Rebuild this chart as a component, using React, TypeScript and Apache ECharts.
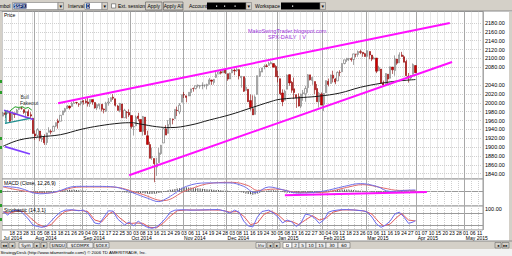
import React, { useEffect, useRef } from 'react';
import * as echarts from 'echarts';

// ---------- DATA ----------
const START = '2014-07-14';
const END = '2015-05-12';
const HOLIDAYS = ['2014-09-01', '2014-11-27', '2014-12-25', '2015-01-01', '2015-01-19', '2015-02-16', '2015-04-03'];
const MONTHS = ['Jan', 'Feb', 'Mar', 'Apr', 'May', 'Jun', 'Jul', 'Aug', 'Sep', 'Oct', 'Nov', 'Dec'];

function buildTradingDays(): string[] {
  const out: string[] = [];
  const d = new Date(START + 'T00:00:00Z');
  const end = new Date(END + 'T00:00:00Z');
  while (d <= end) {
    const wd = d.getUTCDay();
    const s = d.toISOString().slice(0, 10);
    if (wd !== 0 && wd !== 6 && HOLIDAYS.indexOf(s) < 0) out.push(s);
    d.setUTCDate(d.getUTCDate() + 1);
  }
  return out;
}
const dates = buildTradingDays();

// [open, close, low, high] per trading day, Jul 14 2014 .. Mar 31 2015
const ohlc: number[][] = [
  [1969.9,1977.1,1969.9,1979.8],[1977.4,1973.3,1965.6,1982.5],[1976.4,1981.6,1975.4,1983.9],[1979.8,1958.1,1955.6,1981.8],
  [1961.5,1978.2,1961.5,1979.9],[1976.9,1973.6,1965.8,1976.9],[1975.7,1983.5,1975.7,1986.2],[1985.3,1987.0,1984.0,1989.2],
  [1988.1,1988.0,1984.6,1991.4],[1984.6,1978.3,1974.9,1984.6],[1978.3,1978.9,1966.1,1981.5],[1980.0,1970.0,1970.0,1984.9],
  [1973.2,1970.1,1965.8,1978.9],[1965.1,1930.7,1930.7,1965.1],
  [1929.8,1925.2,1916.4,1937.4],[1926.6,1939.0,1921.8,1942.9],[1936.3,1920.2,1913.3,1936.3],[1917.3,1920.2,1911.5,1927.9],
  [1923.0,1909.6,1904.8,1928.9],[1910.4,1931.6,1904.8,1932.4],[1933.4,1936.9,1933.4,1944.9],[1935.7,1933.8,1928.8,1939.5],
  [1935.6,1946.7,1935.6,1948.4],[1947.4,1955.2,1945.0,1955.2],[1958.9,1955.1,1941.7,1964.0],[1958.4,1971.7,1958.4,1971.9],
  [1972.7,1981.6,1972.7,1982.0],[1980.5,1986.5,1977.7,1988.6],[1986.8,1992.4,1986.8,1994.8],[1992.6,1988.4,1984.8,1993.5],
  [1991.7,1997.9,1991.7,2001.9],[1998.6,2000.0,1998.6,2005.0],[2000.5,2000.1,1996.5,2002.1],[1997.4,1996.7,1990.9,1998.7],
  [1998.5,2003.4,1994.1,2003.4],
  [2004.1,2002.3,1995.8,2006.1],[2003.6,2000.7,1998.1,2009.3],[2001.7,1997.7,1991.5,2011.2],[1998.0,2007.7,1990.6,2007.7],
  [2007.2,2001.5,1995.6,2007.2],[2000.7,1988.4,1986.7,2001.0],[1988.4,1995.7,1983.3,1996.7],[1992.9,1997.5,1985.2,1997.7],
  [1996.7,1985.5,1980.3,1996.7],[1986.0,1984.1,1976.1,1987.2],[1981.9,1999.0,1979.1,2002.3],[1999.3,2001.6,1993.4,2010.7],
  [2003.1,2011.4,2003.1,2012.3],[2012.7,2010.4,2006.3,2019.3],[2009.1,1994.3,1991.6,2009.1],[1992.8,1982.8,1982.7,1995.4],
  [1983.3,1998.3,1978.6,1999.8],[1997.3,1966.0,1965.9,1997.3],[1966.2,1982.9,1966.2,1986.4],[1979.0,1977.8,1964.0,1981.3],
  [1978.2,1972.3,1968.0,1985.2],
  [1971.4,1946.2,1941.7,1971.4],[1945.8,1946.2,1926.0,1952.0],[1948.1,1967.9,1948.1,1971.2],[1970.0,1964.8,1958.3,1977.4],
  [1962.4,1935.1,1935.1,1962.4],[1935.6,1968.9,1925.8,1970.4],[1967.7,1928.2,1927.6,1967.7],[1925.6,1906.1,1906.1,1936.9],
  [1905.7,1874.7,1874.7,1912.1],[1877.1,1877.7,1871.0,1898.7],[1874.2,1862.5,1820.7,1874.2],[1855.0,1862.8,1835.0,1876.0],
  [1864.9,1886.8,1864.9,1898.2],[1885.6,1904.0,1882.3,1905.0],[1909.4,1941.3,1909.4,1942.5],[1941.3,1927.1,1927.1,1949.3],
  [1931.0,1950.8,1931.0,1961.0],[1951.6,1964.6,1944.1,1965.3],[1963.0,1961.6,1951.4,1964.6],[1964.1,1985.1,1964.1,1985.1],
  [1983.3,1982.3,1970.1,1991.4],[1979.5,1994.7,1974.2,1999.4],[2001.2,2018.1,2001.2,2018.2],
  [2018.2,2017.8,2010.8,2024.5],[2015.8,2012.1,2001.0,2015.8],[2015.3,2023.6,2015.3,2023.8],[2023.3,2031.2,2015.0,2031.6],
  [2032.4,2031.9,2025.1,2034.3],[2032.0,2038.3,2030.2,2038.7],[2038.2,2039.7,2034.3,2041.3],[2037.8,2038.3,2031.8,2040.3],
  [2039.2,2039.3,2030.4,2046.2],[2039.7,2039.8,2035.0,2041.1],[2038.3,2041.3,2030.2,2043.1],[2041.5,2051.8,2041.5,2056.1],
  [2051.2,2048.7,2040.5,2052.1],[2045.9,2052.8,2040.7,2053.8],[2057.5,2063.5,2056.5,2071.5],[2065.1,2069.4,2065.1,2070.2],
  [2070.1,2067.0,2064.0,2074.2],[2067.5,2072.8,2067.5,2073.4],[2074.8,2067.6,2064.8,2075.8],
  [2065.8,2053.4,2049.6,2065.8],[2053.8,2066.6,2053.8,2068.2],[2067.5,2074.3,2067.5,2076.3],[2073.6,2071.9,2062.3,2077.3],
  [2072.8,2075.4,2069.8,2079.5],[2074.8,2060.3,2052.7,2075.8],[2056.6,2059.8,2034.2,2060.6],[2058.9,2026.1,2024.3,2058.9],
  [2027.9,2035.3,2027.9,2055.5],[2030.4,2002.3,2002.3,2030.4],[2005.0,1989.6,1982.3,2018.7],[1986.7,1972.7,1972.6,2016.9],
  [1973.8,2012.9,1973.8,2016.8],[2019.0,2061.2,2019.0,2061.2],[2061.0,2070.7,2058.2,2077.9],[2069.3,2078.5,2069.3,2078.8],
  [2081.5,2082.2,2075.5,2086.7],[2083.3,2081.9,2081.0,2087.6],[2084.3,2088.8,2084.3,2092.7],[2087.6,2090.6,2087.6,2093.6],
  [2088.5,2080.4,2079.8,2088.5],[2082.1,2058.9,2058.9,2085.6],
  [2058.9,2058.2,2046.0,2072.4],[2054.4,2020.6,2017.3,2054.4],[2022.2,2002.6,1992.4,2030.3],[2005.6,2025.9,2005.6,2029.6],
  [2030.6,2062.1,2030.6,2064.1],[2063.5,2044.8,2038.3,2064.4],[2046.1,2028.3,2022.6,2049.3],[2031.6,2023.0,2008.3,2056.9],
  [2018.4,2011.3,1988.4,2018.4],[2013.8,1992.7,1991.5,2021.4],[1992.3,2019.4,1988.1,2020.5],[2020.8,2022.6,2004.5,2028.9],
  [2020.2,2032.1,2002.4,2038.3],[2034.3,2063.2,2022.7,2064.6],[2063.0,2051.8,2050.5,2063.0],[2050.4,2057.1,2040.6,2057.6],
  [2047.9,2029.6,2019.9,2047.9],[2032.3,2002.2,2002.2,2042.5],[2002.5,2021.3,1989.2,2024.6],[2019.4,1995.0,1994.5,2023.3],
  [1996.7,2020.9,1981.0,2021.7],[2022.7,2050.0,2022.7,2050.3],[2048.4,2041.5,2037.0,2054.7],[2043.5,2062.5,2043.5,2063.6],
  [2062.3,2055.5,2046.0,2072.4],[2053.5,2046.7,2041.9,2056.2],[2049.4,2068.6,2049.4,2070.9],[2068.6,2068.5,2059.8,2073.5],
  [2070.0,2088.5,2070.0,2089.0],[2088.8,2097.0,2086.7,2097.0],[2096.5,2100.3,2092.2,2101.3],[2099.2,2099.7,2094.5,2100.2],
  [2099.3,2097.5,2092.9,2102.1],[2097.7,2110.3,2085.4,2110.6],[2109.8,2109.7,2102.7,2110.1],[2109.1,2115.5,2103.8,2117.9],
  [2115.3,2113.9,2109.8,2119.6],[2113.9,2110.7,2103.8,2113.9],[2110.9,2104.5,2103.8,2112.7],
  [2105.2,2117.4,2104.4,2117.5],[2115.8,2107.8,2098.3,2115.8],[2107.7,2098.5,2094.0,2107.7],[2098.5,2101.0,2098.5,2104.3],
  [2100.9,2071.3,2066.9,2100.9],[2072.2,2079.4,2072.2,2083.5],[2076.1,2044.2,2044.2,2076.1],[2044.7,2040.2,2039.7,2050.1],
  [2041.1,2066.0,2041.1,2066.4],[2064.6,2053.4,2041.2,2064.6],[2055.4,2081.2,2055.4,2081.4],[2080.6,2074.3,2065.1,2080.6],
  [2072.8,2099.5,2061.0,2106.9],[2098.7,2089.3,2085.6,2098.7],[2090.3,2108.1,2090.3,2113.9],[2108.0,2104.4,2104.4,2114.9],
  [2103.9,2091.5,2091.5,2107.6],[2093.1,2061.1,2061.1,2097.4],[2059.9,2056.2,2045.5,2067.2],[2055.8,2061.0,2052.9,2062.8],
  [2064.1,2086.2,2064.1,2089.0],[2084.1,2067.9,2067.0,2084.1],
];

// moving average: [day index, value]
const maLine: number[][] = [
  [0,1902],[7,1916],[16,1923],[25,1928],[34,1940],[42,1948],[51,1954],[56,1955],[60,1952],[67,1946],[73,1944],
  [82,1950],[90,1961],[99,1973],[108,1988],[117,2003],[121,2008],[131,2012],[138,2015],[147,2022],[156,2035],
  [165,2044],[172,2049],[180,2052.4],
];
const lastClose = 2067.89;
const lastMa = 2052.43;

// drawn annotations (day index, price)
const upperChannel = [[24, 1999], [195, 2180.2]];
const lowerChannel = [[55, 1836.4], [196, 2092]];
const triTop = [[0.4, 1983.4], [13.2, 1962.5]];
const triBottom = [[0.8, 1953.5], [11.7, 1964.7]];
const triSide = [[1.25, 1981.8], [1.25, 1953.5]];
const flagLine = [[3.0,1981.8],[5.2,1990.9],[6.6,1989.5],[8.6,1990.9],[9.6,1987.3],[11.0,1989.5],[12.5,1983.4]];
const lowerLeftLine = [[0.8, 1901.2], [11.7, 1884.4]];

// MACD (12,26,9)
const macdLine: number[][] = [
  [0,12.3],[7,8.3],[16,-5.6],[23,-0.7],[32,12.3],[40,12.3],[47,11.5],[52,6.6],[57,-3.9],[63,-16.2],[68,-24.5],
  [71,-17.9],[74,-8.1],[80,12.3],[89,20.6],[99,20.6],[105,12.3],[110,-2.5],[116,10.8],[122,4.2],[129,-3.9],
  [139,0],[149,12.3],[156,18.9],[163,12.3],[169,0],[175,2.5],[180,3.58],
];
const signalLine: number[][] = [
  [0,10.8],[19,-3.9],[34,10.8],[47,10.8],[60,-5.6],[70,-22],[80,2.5],[92,20.6],[100,22],[107,14],[111,2.5],
  [119,5.9],[129,-2.5],[139,-2.5],[150,9.8],[157,16.4],[166,8.3],[173,2.5],[180,2.5],
];
const macdHist: number[] = [
  1,1,1.5,1,1,0.5,1,1.5,1.5,
  0.5,0,-0.5,-1,-3,-4,-4,-4,-4.5,-4,-3,-2.5,
  -2,-1,0,1,1.5,2.5,3,3.5,4,4,4,3.5,3,2.5,2,
  1.5,1,0.5,0,-0.5,-1,-1,-1,-1,-0.5,0,0.5,0.5,
  0,-0.5,-1,-2,-2,-2.5,-3,-4,-4.5,-4,-4,-4.5,-4,-5,-5.5,-6,-6,-5.5,
  -5,-4,-3,-1,1,3,4,5,6,7,8,9,10,10,9.5,9,8.5,8,7.5,7,6.5,6,5.5,5,
  4.5,4,3.5,3.5,3,2.5,2,1.5,1,0.5,0,-0.5,-1,-2,-3,
  -5,-6,-7,-8,-7,-5,-3,-1,0.5,1.5,
  2.5,3,3,2.5,1.5,0.5,-1,-2.5,-3,-3,
  -3.5,-4,-4.5,-4.5,-4,-3,-2,-1,-1,-1.5,-2,-2.5,-2,-1,0,
  1,2,2.5,3,3.5,4,4.5,5,5,4.5,4,4,3.5,3,2.5,2,1.5,1,0.5,0,
  -1,-2,-3,-3.5,-4,-4.5,-4,-3.5,-3,-2,-1,0,
  0.5,1,1,0.5,0,0,0.5,1,
];
const macdTrend = [[123, -9.4], [185, -1.0]];
const macdValue = 3.5819;

// Stochastic (14,3,1)
const stochK: number[][] = [
  [0,88],[2,70],[4,92],[7,95],[9,75],[11,50],[13,20],[15,12],[17,8],[19,15],[21,40],[23,65],[25,85],[27,95],
  [30,97],[33,92],[35,95],[37,80],[40,30],[42,25],[44,60],[46,92],[48,90],[50,50],[52,30],[53,20],[55,35],
  [57,15],[59,40],[61,20],[63,8],[65,3],[67,10],[69,30],[71,55],[73,85],[75,95],[78,97],[82,95],[86,96],
  [90,97],[94,98],[97,90],[99,80],[101,95],[103,85],[105,40],[107,15],[109,10],[111,60],[113,88],[116,95],
  [118,80],[120,60],[122,30],[124,45],[126,35],[128,12],[130,30],[132,75],[134,70],[136,55],[138,28],[140,45],
  [142,85],[144,92],[147,97],[150,98],[154,95],[157,92],[159,85],[161,60],[163,25],[165,8],[167,20],[169,40],
  [171,75],[173,85],[175,60],[177,28],[179,35],[180,42.2],
];
const stochD: number[][] = [
  [0,85],[3,80],[6,90],[9,88],[12,55],[15,25],[18,10],[21,22],[24,60],[27,88],[30,95],[34,93],[37,88],[40,45],
  [43,35],[46,75],[48,88],[51,55],[54,28],[56,28],[58,30],[61,28],[64,8],[67,6],[70,30],[73,65],[76,92],[80,96],
  [85,95],[90,96],[95,95],[99,85],[102,88],[105,65],[108,22],[111,30],[114,75],[117,90],[120,72],[123,40],
  [126,38],[129,22],[132,45],[135,68],[138,45],[141,55],[144,85],[148,96],[153,96],[158,90],[161,75],[164,35],
  [166,15],[169,25],[172,60],[174,78],[177,45],[180,40],
];
const stochValue = 42.2;

const priceGrid = [1840,1860,1880,1900,1920,1940,1960,1980,2000,2020,2040,2060,2080,2100,2120,2140,2160,2180];
// 2060.00 sits behind the two black value boxes in the reference, so it is not printed
const priceLabels = [1840,1860,1880,1900,1920,1940,1960,1980,2000,2020,2040,2080,2100,2120,2140,2160,2180];

// ---------- HELPERS ----------
const FONT = 'Liberation Sans, Arial, sans-serif';
const N = dates.length;
const dayTick = (i: number) => i >= 4 && (i - 4) % 3 === 0;
const monthStart = (i: number) => i > 0 && dates[i].slice(5, 7) !== dates[i - 1].slice(5, 7);
const monthLabelIdx = (i: number) => i === 0 || monthStart(i);

const GRID_L = 2;
const GRID_W = 481;

function catAxes(grid: number, withLabels: boolean): any[] {
  const dotted = {
    type: 'category', gridIndex: grid, data: dates, position: 'bottom',
    axisLine: { show: false }, axisTick: { show: false },
    axisLabel: withLabels
      ? { show: true, interval: (i: number) => dayTick(i), formatter: (v: string) => v.slice(8), fontSize: 5, fontFamily: FONT, color: '#000', margin: 0.8 }
      : { show: false },
    splitLine: { show: true, interval: (i: number) => dayTick(i), lineStyle: { color: '#cfcfcf', type: 'dotted', width: 1 } },
  };
  const months = {
    type: 'category', gridIndex: grid, data: dates, position: 'bottom', offset: 0,
    axisLine: { show: false }, axisTick: { show: false },
    axisLabel: withLabels
      ? { show: true, interval: (i: number) => monthLabelIdx(i), align: 'left', margin: 6,
          formatter: (v: string) => MONTHS[+v.slice(5, 7) - 1] + ' ' + v.slice(0, 4), fontSize: 5, fontFamily: FONT, color: '#000' }
      : { show: false },
    splitLine: { show: true, interval: (i: number) => monthStart(i), lineStyle: { color: '#a8a8a8', type: 'solid', width: 1 } },
  };
  const val = { type: 'value', gridIndex: grid, min: -0.5, max: N - 0.5, show: false, position: 'bottom', splitLine: { show: false } };
  return [dotted, months, val];
}

function overlayLine(data: number[][], xi: number, yi: number, color: string, width: number, extra: any = {}) {
  return { type: 'line', xAxisIndex: xi, yAxisIndex: yi, data, symbol: 'none', silent: true,
    lineStyle: { color, width }, itemStyle: { color }, z: 5, ...extra };
}

function valueLabel(v: number, text: string, bg: string, fg: string) {
  return {
    silent: true, symbol: ['none', 'none'],
    lineStyle: { opacity: 0 },
    label: { show: true, position: 'end', distance: 1, formatter: text, backgroundColor: bg, color: fg,
      fontSize: 4.8, fontFamily: FONT, padding: [0, 1, 0, 1.5], width: 22, lineHeight: 5.2 },
    data: [{ yAxis: v }],
  };
}

function buildGraphics(): any[] {
  const g: any[] = [];
  const rect = (x: number, y: number, w: number, h: number, fill: string, stroke?: string) =>
    g.push({ type: 'rect', silent: true, z: 100, shape: { x, y, width: w, height: h },
      style: { fill, stroke: stroke || 'none', lineWidth: stroke ? 0.6 : 0 } });
  const txt = (x: number, y: number, text: string, o: any = {}) =>
    g.push({ type: 'text', silent: true, z: 101, x, y,
      style: { text, fontSize: 5, fontFamily: FONT, fill: '#000', align: 'left', verticalAlign: 'middle', ...o } });
  const line = (x1: number, y1: number, x2: number, y2: number, stroke: string, w = 1) =>
    g.push({ type: 'line', silent: true, z: 100, shape: { x1, y1, x2, y2 }, style: { stroke, lineWidth: w } });
  const drop = (x: number) => { rect(x, 2.5, 5.5, 7, '#d4d0c8', '#7a7a7a'); txt(x + 2.75, 6.2, '▾', { align: 'center', fontFamily: 'DejaVu Sans', fontSize: 5 }); };
  const btn = (x: number, w: number, label: string, fill = '#d4d0c8', y = 242.5, h = 5.5) => {
    rect(x, y, w, h, fill, '#6a6a6a');
    txt(x + w / 2, y + h / 2 + 0.2, label, { align: 'center', fontSize: 4.3, fontFamily: 'DejaVu Sans' });
  };

  // toolbar
  rect(0, 0, 512, 11, '#d4d0c8');
  line(0, 11, 512, 11, '#8a8a8a');
  txt(10.5, 6, 'Symbol', { align: 'right' });
  rect(12.5, 2.5, 45.5, 7, '#ffffff', '#7a7a7a');
  rect(13.5, 3.5, 13, 5, '#0a246a');
  txt(14, 6, '$SPX', { fill: '#ffffff', fontSize: 4.5 });
  drop(58);
  txt(68, 6, 'Interval');
  rect(85, 2.5, 17, 7, '#ffffff', '#7a7a7a');
  rect(86, 3.5, 4, 5, '#0a246a');
  txt(86.4, 6, 'D', { fill: '#ffffff', fontSize: 4.5 });
  drop(102);
  rect(111.5, 3.8, 4.2, 4.2, '#ffffff', '#555555');
  txt(118, 6, 'Ext. session');
  rect(145.5, 2, 16.5, 8, '#d4d0c8', '#555555');
  txt(153.75, 6, 'Apply', { align: 'center' });
  rect(163.5, 2, 19.5, 8, '#d4d0c8', '#555555');
  txt(173.25, 6, 'Apply All', { align: 'center' });
  txt(189, 6, 'Account');
  rect(207, 2.5, 39, 7, '#000000');
  rect(216, 5.5, 1.2, 1.2, '#ffffff'); rect(224, 5.5, 1.2, 1.2, '#ffffff'); rect(234.5, 5.5, 1.2, 1.2, '#ffffff');
  drop(246);
  txt(255, 6, 'Workspace');
  rect(281, 2.5, 39, 7, '#000000');
  rect(292, 5.5, 1.2, 1.2, '#ffffff');
  drop(320);

  // side strips
  rect(0, 12, 2, 229, '#d4d0c8');
  [80, 91, 137, 146, 190, 204, 218].forEach((y) => rect(0, y, 2, 3, '#2a9d2a'));
  rect(509, 12, 3, 229, '#d4d0c8');

  // panel titles and texts
  txt(4, 14.5, 'Price', { fontSize: 5 });
  txt(4, 182.5, 'MACD (Close, 12,26,9)', { fontSize: 5 });
  txt(4, 209.5, 'Stochastic (14,3,1)', { fontSize: 5 });
  txt(248, 30.7, 'MakoSwingTrader.blogspot.com', { fill: '#9b30d9', fontSize: 5.5 });
  txt(268, 37.3, 'SPX-DAILY  | V', { fill: '#9b30d9', fontSize: 5.5 });
  txt(20.5, 97.3, 'Bull', { fill: '#333333', fontSize: 5 });
  txt(20, 103.3, 'Fakeout', { fill: '#333333', fontSize: 5 });

  // bottom tabs
  rect(0, 241, 512, 8, '#d4d0c8');
  line(0, 241, 512, 241, '#8a8a8a');
  btn(1, 7, '◂◂'); btn(9, 6, '◂'); btn(19, 14, 'Sym', '#ececec'); btn(34, 6, '▸'); btn(41, 6, '▸');
  btn(50, 16, '$INDU', '#ececec'); btn(67, 26, '$COMPX', '#ececec'); btn(94, 15, '$OEX', '#ececec');
  btn(256, 10, 'Inv', '#ececec'); btn(267, 6, '◂'); btn(274, 6, '▸');
  btn(283, 9, 'D', '#ffffff'); btn(292, 7, '2', '#ececec'); btn(299, 7, '5', '#ececec'); btn(306, 10, '10', '#ececec');
  btn(316, 10, '15', '#ececec'); btn(326, 12, '30', '#ececec'); btn(338, 12, '60', '#ececec');
  btn(495, 6, '◂'); btn(502, 7, '▸▸');

  // status bar
  rect(0, 249, 512, 7, '#f2f2f2');
  txt(0.5, 252.5, 'StrategyDesk (http://www.tdameritrade.com/) © 2006 TD AMERITRADE, Inc.', { fontSize: 4.3 });
  return g;
}

function buildOption(): any {
  const grids = [
    { left: GRID_L, top: 11.5, width: GRID_W, height: 167.5 },
    { left: GRID_L, top: 179, width: GRID_W, height: 27 },
    { left: GRID_L, top: 206, width: GRID_W, height: 23.9 },
  ].map((gr) => ({ ...gr, show: true, backgroundColor: '#ffffff', borderColor: '#9a9a9a', borderWidth: 1, containLabel: false, outerBoundsMode: 'none' }));

  const xAxis = [...catAxes(0, false), ...catAxes(1, false), ...catAxes(2, true)];

  const yAxis = [
    { type: 'value', gridIndex: 0, position: 'right', min: 1828, max: 2206,
      axisLine: { show: false },
      axisTick: { show: false, customValues: priceGrid },
      axisLabel: { show: true, customValues: priceLabels, formatter: (v: number) => v.toFixed(2), fontSize: 5.5, fontFamily: FONT, color: '#000', margin: 2 },
      splitLine: { show: true, lineStyle: { color: '#cfcfcf', type: 'dotted', width: 1 } } },
    { type: 'value', gridIndex: 1, position: 'right', min: -35, max: 30,
      axisLine: { show: false },
      axisTick: { show: false, customValues: [0] },
      axisLabel: { show: false },
      splitLine: { show: true, lineStyle: { color: '#9a9a9a', width: 1 } } },
    { type: 'value', gridIndex: 2, position: 'right', min: -5, max: 116,
      axisLine: { show: false },
      axisTick: { show: false, customValues: [20, 80] },
      axisLabel: { show: true, customValues: [100], formatter: (v: number) => v.toFixed(2), fontSize: 5.5, fontFamily: FONT, color: '#000', margin: 2 },
      splitLine: { show: true, lineStyle: { color: '#9a9a9a', width: 1 } } },
  ];

  const series: any[] = [
    { type: 'candlestick', xAxisIndex: 0, yAxisIndex: 0, data: ohlc, barWidth: 1.7, silent: true, z: 3,
      itemStyle: { color: '#ffffff', color0: '#d10000', borderColor: '#6a6a6a', borderColor0: '#8a0000', borderWidth: 0.6 },
      markLine: valueLabel(lastClose, lastClose.toFixed(2), '#000000', '#ffffff') },
    overlayLine(maLine, 2, 0, '#1a1a1a', 1, { smooth: 0.4, markLine: valueLabel(lastMa, lastMa.toFixed(2), '#000000', '#ffffff') }),
    overlayLine(upperChannel, 2, 0, '#ff10ff', 2),
    overlayLine(lowerChannel, 2, 0, '#ff10ff', 2),
    overlayLine(triTop, 2, 0, '#7b3cf0', 1.6),
    overlayLine(triBottom, 2, 0, '#1f8f8f', 1.2),
    overlayLine(triSide, 2, 0, '#1f8f8f', 1.2),
    overlayLine(flagLine, 2, 0, '#20a020', 1),
    overlayLine(lowerLeftLine, 2, 0, '#8040ff', 1.8),

    { type: 'bar', xAxisIndex: 3, yAxisIndex: 1, data: macdHist, barWidth: 0.8, silent: true,
      itemStyle: { color: '#505050' } },
    overlayLine(signalLine, 5, 1, '#e06a6a', 1, { smooth: 0.4, markLine: valueLabel(0.3, ' ', '#2020d0', '#ffffff') }),
    overlayLine(macdLine, 5, 1, '#7070e8', 1, { smooth: 0.4, markLine: valueLabel(macdValue, macdValue.toFixed(4), '#ff0000', '#ffffff') }),
    overlayLine(macdTrend, 5, 1, '#ff10ff', 2),

    overlayLine(stochD, 8, 2, '#e05a5a', 1, { markLine: valueLabel(38, ' ', '#2020d0', '#ffffff') }),
    overlayLine(stochK, 8, 2, '#6a6af0', 1, { markLine: valueLabel(stochValue, stochValue.toFixed(2), '#ff0000', '#ffffff') }),
  ];

  return {
    animation: false,
    backgroundColor: '#ffffff',
    grid: grids,
    xAxis,
    yAxis,
    series,
    graphic: { elements: buildGraphics() },
  };
}

export default function App() {
  const ref = useRef<HTMLDivElement>(null);
  useEffect(() => {
    document.body.style.margin = '0';
    if (!ref.current) return;
    const chart = echarts.init(ref.current, undefined, { renderer: 'svg' });
    chart.setOption(buildOption());
    return () => chart.dispose();
  }, []);
  return <div ref={ref} style={{ position: 'fixed', left: 0, top: 0, width: 512, height: 256, background: '#fff' }} />;
}
